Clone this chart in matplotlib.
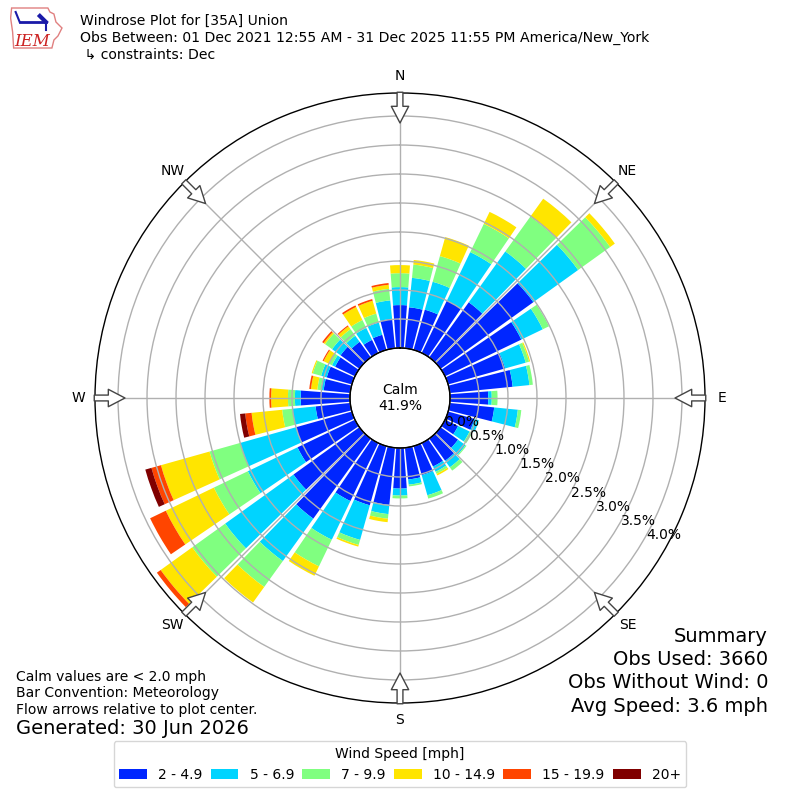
import numpy as np
import matplotlib
matplotlib.use("Agg")
import matplotlib.pyplot as plt
from matplotlib.patches import Patch, Polygon
from matplotlib.lines import Line2D

# ---------------- data (percent of observations) ----------------
directions = list(range(0, 360, 10))
speed_labels = ["2 - 4.9", "5 - 6.9", "7 - 9.9", "10 - 14.9", "15 - 19.9", "20+"]
bin_colors = ["#0026ff", "#00d4ff", "#80ff80", "#ffe500", "#ff4500", "#800000"]

spd_2_5 = [0.74, 0.71, 0.72, 1.00, 1.17, 1.97, 1.46, 1.02, 1.09, 0.66, 0.77, 0.47,
           0.25, 0.37, 0.47, 0.45, 0.52, 0.55, 0.70, 0.99, 1.06, 1.11, 1.70, 1.40,
           1.10, 1.00, 0.60, 0.85, 0.46, 0.45, 0.38, 0.40, 0.33, 0.25, 0.27, 0.51]
spd_5_7 = [0.31, 0.51, 0.50, 0.93, 1.08, 0.95, 0.41, 0.37, 0.29, 0.06, 0.41, 0.08,
           0.22, 0.16, 0.14, 0.10, 0.36, 0.09, 0.12, 0.16, 0.62, 0.74, 0.90, 1.45,
           0.95, 1.00, 0.40, 0.10, 0.05, 0.10, 0.06, 0.18, 0.13, 0.23, 0.22, 0.32]
spd_7_10 = [0.24, 0.23, 0.46, 0.54, 0.74, 0.68, 0.12, 0.06, 0.06, 0.10, 0.06, 0.00,
            0.05, 0.02, 0.07, 0.04, 0.06, 0.03, 0.05, 0.08, 0.09, 0.51, 0.55, 0.70,
            0.65, 0.55, 0.18, 0.12, 0.06, 0.15, 0.06, 0.15, 0.14, 0.15, 0.16, 0.20]
spd_10_15 = [0.14, 0.08, 0.34, 0.23, 0.38, 0.10, 0.00, 0.02, 0.00, 0.00, 0.00, 0.00,
             0.00, 0.00, 0.00, 0.03, 0.00, 0.00, 0.00, 0.06, 0.03, 0.18, 0.33, 0.67,
             0.92, 0.87, 0.53, 0.29, 0.11, 0.02, 0.10, 0.03, 0.06, 0.25, 0.23, 0.07]
spd_15_20 = [0.00, 0.00, 0.00, 0.00, 0.00, 0.00, 0.00, 0.00, 0.00, 0.00, 0.00, 0.00,
             0.00, 0.00, 0.00, 0.00, 0.00, 0.00, 0.00, 0.00, 0.00, 0.00, 0.00, 0.08,
             0.30, 0.17, 0.11, 0.03, 0.03, 0.00, 0.02, 0.03, 0.02, 0.03, 0.03, 0.03]
spd_20p = [0.00, 0.00, 0.00, 0.00, 0.00, 0.00, 0.00, 0.00, 0.00, 0.00, 0.00, 0.00,
           0.00, 0.00, 0.00, 0.00, 0.00, 0.00, 0.00, 0.00, 0.00, 0.00, 0.00, 0.00,
           0.00, 0.11, 0.09, 0.00, 0.00, 0.00, 0.00, 0.00, 0.00, 0.00, 0.00, 0.00]
speed_bins = [spd_2_5, spd_5_7, spd_7_10, spd_10_15, spd_15_20, spd_20p]

calm_pct = 41.9
ring_values = [0.0, 0.5, 1.0, 1.5, 2.0, 2.5, 3.0, 3.5, 4.0]
compass_angles = [0, 45, 90, 135, 180, 225, 270, 315]
compass_labels = ["N", "NE", "E", "SE", "S", "SW", "W", "NW"]

title_lines = ["Windrose Plot for [35A] Union",
               "Obs Between: 01 Dec 2021 12:55 AM - 31 Dec 2025 11:55 PM America/New_York",
               " \u21b3 constraints: Dec"]
notes = ["Calm values are < 2.0 mph", "Bar Convention: Meteorology",
         "Flow arrows relative to plot center."]
generated = "Generated: 30 Jun 2026"
summary = ["Summary", "Obs Used: 3660", "Obs Without Wind: 0", "Avg Speed: 3.6 mph"]

# ---------------- figure ----------------
plt.rcParams["font.family"] = ["DejaVu Sans"]
fig = plt.figure(figsize=(8, 8), dpi=100)

rmax = 4.397
ax = fig.add_axes([0.11875, 0.12125, 0.7625, 0.7625], projection="polar")
ax.set_theta_zero_location("N")
ax.set_theta_direction(-1)
ax.set_rorigin(-0.862)
ax.set_ylim(0, rmax)

theta = np.deg2rad(directions)
width = np.deg2rad(8.6)
bottom = np.zeros(len(directions))
for vals, col in zip(speed_bins, bin_colors):
    v = np.array(vals)
    ax.bar(theta, v, width=width, bottom=bottom, color=col, linewidth=0, zorder=1)
    bottom = bottom + v

# grid
ax.set_yticks(ring_values)
ax.set_yticklabels([])
ax.set_thetagrids(compass_angles, compass_labels, fontsize=10)
ax.tick_params(axis="x", pad=1.5)
ax.grid(True, color="#b0b0b0", linewidth=1.0)
ax.spines["polar"].set_color("black")
ax.spines["polar"].set_linewidth(1.0)

# calm circle edge
circ_t = np.linspace(0, 2 * np.pi, 361)
ax.plot(circ_t, np.zeros_like(circ_t), color="black", linewidth=1.0, zorder=4,
        clip_on=False)
ax.text(0.5, 0.5, "Calm\n%.1f%%" % calm_pct, transform=ax.transAxes,
        ha="center", va="center", fontsize=10, zorder=5)

# radial labels
for rv in ring_values:
    ax.text(np.deg2rad(119), rv, "%.1f%%" % rv, ha="left", va="center",
            fontsize=10, zorder=5, clip_on=False)

# flow arrows
for ang in compass_angles:
    t = np.deg2rad(ang)
    ax.annotate("", xy=(t, 3.88), xytext=(t, 4.41), xycoords="data",
                arrowprops=dict(arrowstyle="simple,head_length=1.2,head_width=1.25,tail_width=0.42",
                                fc="white", ec="#444444", lw=1.0,
                                shrinkA=0, shrinkB=0),
                annotation_clip=False, zorder=6)

# ---------------- texts ----------------
for i, line in enumerate(title_lines):
    fig.text(0.1, 0.974 - i * 0.02125, line, ha="left", va="center", fontsize=10.1)

for i, line in enumerate(notes):
    fig.text(0.02, 0.15375 - i * 0.0205, line, ha="left", va="center", fontsize=10)
fig.text(0.02, 0.08875, generated, ha="left", va="center", fontsize=14)

for i, line in enumerate(summary):
    fig.text(0.96, 0.205 - i * 0.0292, line, ha="right", va="center", fontsize=14)

# legend
handles = [Patch(facecolor=c, edgecolor="none") for c in bin_colors]
leg = fig.legend(handles, speed_labels, loc="center", bbox_to_anchor=(0.5, 0.0445),
                 ncol=6, title="Wind Speed [mph]", fontsize=10, title_fontsize=10,
                 handlelength=2.0, handletextpad=0.8, columnspacing=0.6,
                 frameon=True)
leg.get_frame().set_edgecolor("#cccccc")

# simple logo
lax = fig.add_axes([0.012, 0.935, 0.068, 0.06])
lax.set_xlim(0, 54)
lax.set_ylim(0, 48)
lax.axis("off")
outline = [(2, 44), (38, 44), (40, 40), (44, 38), (46, 30), (52, 24), (48, 16),
           (44, 12), (42, 4), (4, 4), (3, 20), (1, 34)]
lax.add_patch(Polygon(outline, closed=True, fill=False, edgecolor="#e08080", lw=1.0))
lax.add_artist(Line2D([10, 36], [30, 30], color="#1a1aa8", lw=2))
lax.add_artist(Line2D([10, 6], [30, 40], color="#1a1aa8", lw=1.5))
lax.add_artist(Line2D([30, 36], [36, 30], color="#1a1aa8", lw=3))
lax.add_artist(Line2D([36, 36], [30, 22], color="#1a1aa8", lw=1.5))
lax.text(5, 11, "IEM", color="#cc2222", fontsize=12, fontstyle="italic",
         family="DejaVu Serif", ha="left", va="center")

fig.savefig("out.png", dpi=100)
